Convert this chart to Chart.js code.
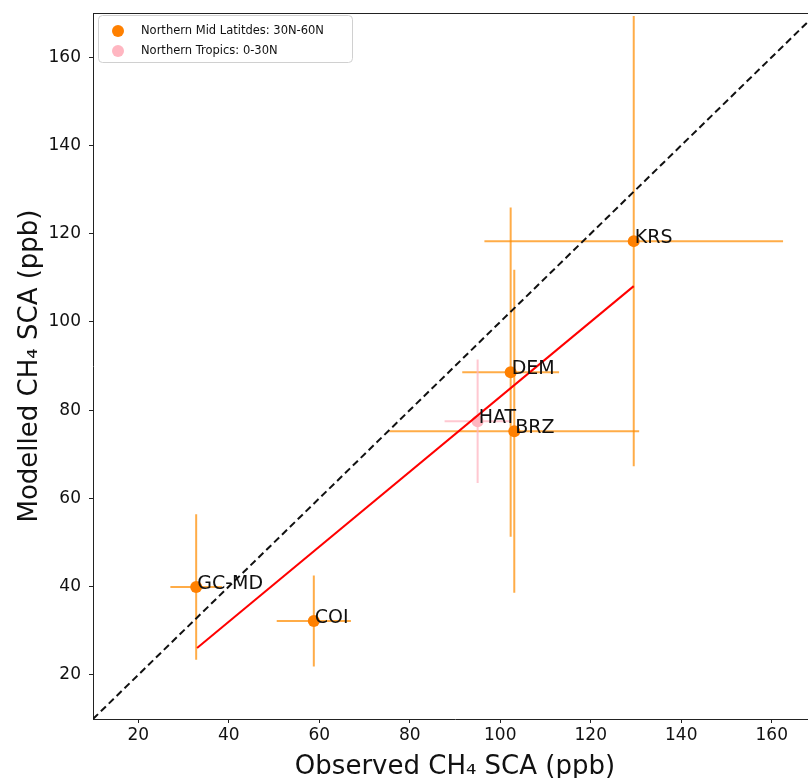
<!DOCTYPE html>
<html>
<head>
<meta charset="utf-8">
<script src="https://cdn.jsdelivr.net/npm/chart.js@4.4.1/dist/chart.umd.min.js"></script>
<style>
  html, body { margin: 0; padding: 0; background: #fff; overflow: hidden; }
  #wrap { width: 823px; height: 778px; position: relative; }
</style>
</head>
<body>
<div id="wrap"><canvas id="sca-chart" width="823" height="778"></canvas></div>
<script>
// Northern mid latitudes (30N-60N)
const midLatSites = ['GC-MD', 'COI', 'DEM', 'BRZ', 'KRS'];
const midLatObs = [32.8, 58.8, 102.3, 103.1, 129.5];
const midLatMod = [39.9, 32.2, 88.6, 75.2, 118.3];
const midLatObsErr = [5.7, 8.2, 10.7, 27.6, 33.0];
const midLatModErr = [16.5, 10.3, 37.3, 36.6, 51.0];

// Northern tropics (0-30N)
const tropSites = ['HAT'];
const tropObs = [95.0];
const tropMod = [77.5];
const tropObsErr = [7.3];
const tropModErr = [14.0];

// regression fit and 1:1 reference
const fitX = [33.0, 129.5];
const fitY = [26.1, 108.1];
const oneToOne = [10, 170];

const xTicks = [20, 40, 60, 80, 100, 120, 140, 160];
const yTicks = [20, 40, 60, 80, 100, 120, 140, 160];

const FONT = "'DejaVu Sans', sans-serif";

function toPoints(xs, ys) {
  return xs.map((x, i) => ({ x: x, y: ys[i] }));
}

// error bars + site names, drawn from the dataset values
const errorBarPlugin = {
  id: 'errorBars',
  beforeDatasetsDraw(chart) {
    const ctx = chart.ctx;
    const xs = chart.scales.x, ys = chart.scales.y;
    ctx.save();
    ctx.beginPath();
    ctx.rect(chart.chartArea.left, chart.chartArea.top, chart.chartArea.width, chart.chartArea.height);
    ctx.clip();
    chart.data.datasets.forEach(ds => {
      if (!ds.xErr) return;
      ctx.strokeStyle = ds.errColor;
      ctx.lineWidth = 2;
      ds.data.forEach((p, i) => {
        const px = xs.getPixelForValue(p.x), py = ys.getPixelForValue(p.y);
        ctx.beginPath();
        ctx.moveTo(xs.getPixelForValue(p.x - ds.xErr[i]), py);
        ctx.lineTo(xs.getPixelForValue(p.x + ds.xErr[i]), py);
        ctx.moveTo(px, ys.getPixelForValue(p.y - ds.yErr[i]));
        ctx.lineTo(px, ys.getPixelForValue(p.y + ds.yErr[i]));
        ctx.stroke();
      });
    });
    ctx.restore();
  },
  afterDatasetsDraw(chart) {
    const ctx = chart.ctx;
    const xs = chart.scales.x, ys = chart.scales.y;
    ctx.save();
    ctx.font = '19px ' + FONT;
    ctx.fillStyle = '#111';
    ctx.textAlign = 'left';
    ctx.textBaseline = 'alphabetic';
    chart.data.datasets.forEach(ds => {
      if (!ds.names) return;
      ds.data.forEach((p, i) => {
        ctx.fillText(ds.names[i], xs.getPixelForValue(p.x) + 1, ys.getPixelForValue(p.y) + 2);
      });
    });

    // frame (top/right spines)
    const a = chart.chartArea;
    ctx.strokeStyle = '#222';
    ctx.lineWidth = 1;
    ctx.beginPath();
    ctx.moveTo(a.left, a.top + 0.5);
    ctx.lineTo(a.right, a.top + 0.5);
    ctx.lineTo(a.right - 0.5, a.bottom);
    ctx.stroke();

    // legend box
    const lx = a.left + 5, ly = a.top + 2, lw = 254, lh = 47;
    ctx.fillStyle = 'rgba(255,255,255,0.8)';
    ctx.strokeStyle = '#d0d0d0';
    ctx.beginPath();
    ctx.roundRect(lx + 0.5, ly + 0.5, lw, lh, 4);
    ctx.fill();
    ctx.stroke();
    ctx.font = '11.5px ' + FONT;
    ctx.textBaseline = 'middle';
    const legendSets = chart.data.datasets.filter(ds => ds.names);
    legendSets.forEach((ds, i) => {
      const cy = ly + 16 + i * 20;
      ctx.fillStyle = ds.backgroundColor;
      ctx.beginPath();
      ctx.arc(lx + 20, cy, 6, 0, Math.PI * 2);
      ctx.fill();
      ctx.fillStyle = '#111';
      ctx.fillText(ds.label, lx + 43, cy);
    });
    ctx.restore();
  }
};

new Chart(document.getElementById('sca-chart'), {
  type: 'scatter',
  data: {
    datasets: [
      {
        label: 'fit',
        data: toPoints(fitX, fitY),
        showLine: true,
        borderColor: '#ff0000',
        borderWidth: 2,
        pointRadius: 0,
        order: 0
      },
      {
        label: '1:1',
        data: toPoints(oneToOne, oneToOne),
        showLine: true,
        borderColor: '#111',
        borderWidth: 2,
        borderDash: [7, 4],
        pointRadius: 0,
        order: 1
      },
      {
        label: 'Northern Mid Latitdes: 30N-60N',
        data: toPoints(midLatObs, midLatMod),
        names: midLatSites,
        xErr: midLatObsErr,
        yErr: midLatModErr,
        errColor: 'rgba(255,140,0,0.72)',
        backgroundColor: '#ff8000',
        borderWidth: 0,
        pointRadius: 6,
        order: 2
      },
      {
        label: 'Northern Tropics: 0-30N',
        data: toPoints(tropObs, tropMod),
        names: tropSites,
        xErr: tropObsErr,
        yErr: tropModErr,
        errColor: 'rgba(255,182,193,0.75)',
        backgroundColor: '#ffb6c1',
        borderWidth: 0,
        pointRadius: 6,
        order: 3
      }
    ]
  },
  options: {
    responsive: false,
    animation: false,
    layout: { padding: { top: 13, right: 0, left: 0, bottom: 0 } },
    plugins: {
      legend: { display: false },
      tooltip: { enabled: false }
    },
    scales: {
      x: {
        type: 'linear',
        min: 10,
        max: 170,
        afterFit: s => { s.height = 59; s.paddingLeft = 0; s.paddingRight = 0; },
        afterBuildTicks: s => { s.ticks = xTicks.map(v => ({ value: v })); },
        ticks: { font: { family: FONT, size: 17 }, color: '#111', padding: 2, maxRotation: 0 },
        grid: { drawOnChartArea: false, drawTicks: true, tickLength: 4, color: '#222' },
        border: { display: true, color: '#222', width: 1 },
        title: {
          display: true,
          text: 'Observed CH\u2084 SCA (ppb)',
          font: { family: FONT, size: 26, lineHeight: 1 },
          color: '#111',
          padding: { top: 0, bottom: -2 }
        }
      },
      y: {
        type: 'linear',
        min: 10,
        max: 170,
        afterFit: s => { s.width = 93; s.paddingTop = 0; s.paddingBottom = 0; },
        afterBuildTicks: s => { s.ticks = yTicks.map(v => ({ value: v })); },
        ticks: { font: { family: FONT, size: 17 }, color: '#111', padding: 8 },
        grid: { drawOnChartArea: false, drawTicks: true, tickLength: 4, color: '#222' },
        border: { display: true, color: '#222', width: 1 },
        title: {
          display: true,
          text: 'Modelled CH\u2084 SCA (ppb)',
          font: { family: FONT, size: 26, lineHeight: 1 },
          color: '#111',
          padding: { top: 17, bottom: 0 }
        }
      }
    }
  },
  plugins: [errorBarPlugin]
});
</script>
</body>
</html>
